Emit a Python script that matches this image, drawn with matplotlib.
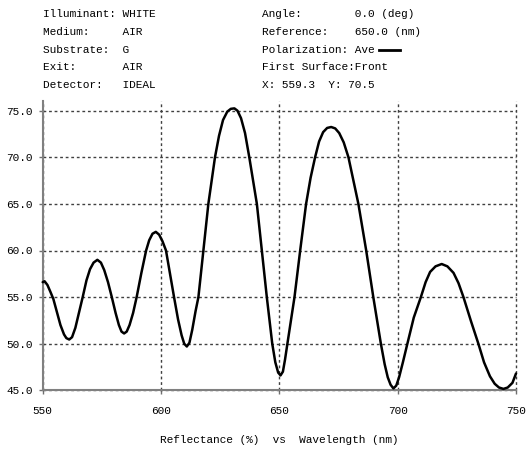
import matplotlib
matplotlib.use("Agg")
import matplotlib.pyplot as plt
from matplotlib.lines import Line2D

# curve (wavelength nm, reflectance %)
wl = [550.0, 550.8, 552.0, 553.2, 554.5, 556.0, 557.5, 559.0, 560.0, 561.2,
      562.4, 563.8, 565.3, 566.9, 568.5, 570.0, 571.5, 573.1, 574.6, 576.0,
      577.6, 579.2, 580.8, 582.2, 583.3, 584.4, 585.5, 586.7, 588.2, 589.7,
      591.7, 593.7, 595.0, 596.4, 597.8, 599.2, 600.6, 602.1, 603.8, 605.5,
      607.2, 608.7, 609.8, 610.9, 612.0, 613.2, 614.6, 615.8, 617.9, 620.0,
      622.8, 624.5, 626.2, 628.0, 629.5, 631.0, 632.3, 633.8, 635.5, 637.3,
      640.5, 642.6, 644.7, 647.0, 648.3, 649.5, 650.5, 651.5, 652.4, 653.4,
      656.4, 658.8, 661.3, 663.2, 665.1, 666.8, 668.5, 670.2, 671.9, 673.6,
      675.3, 677.2, 679.2, 683.4, 686.7, 689.7, 692.9, 694.5, 695.8, 697.0,
      698.2, 699.4, 700.6, 702.2, 704.1, 706.8, 709.8, 711.8, 713.7, 716.0,
      718.6, 721.0, 723.6, 725.7, 727.8, 731.0, 734.1, 736.5, 739.0, 741.0,
      742.8, 744.7, 746.5, 748.5, 750.0]
refl = [56.6, 56.7, 56.3, 55.6, 54.8, 53.4, 52.0, 51.0, 50.6, 50.45,
        50.7, 51.7, 53.3, 55.0, 56.8, 58.0, 58.7, 59.0, 58.7, 57.9,
        56.6, 55.0, 53.3, 52.0, 51.3, 51.1, 51.3, 52.0, 53.3, 55.0,
        57.6, 60.0, 61.1, 61.8, 62.0, 61.7, 61.0, 60.0, 57.5, 55.0,
        52.6, 50.9, 50.0, 49.7, 50.1, 51.5, 53.5, 55.0, 60.0, 65.0,
        70.0, 72.3, 74.0, 74.9, 75.2, 75.25, 75.0, 74.2, 72.6, 70.0,
        65.0, 60.0, 55.0, 50.0, 48.0, 46.9, 46.6, 47.0, 48.3, 50.0,
        55.0, 60.0, 65.0, 67.8, 70.0, 71.7, 72.7, 73.15, 73.25, 73.1,
        72.6, 71.6, 70.0, 65.0, 60.0, 55.0, 50.0, 47.8, 46.4, 45.6,
        45.2, 45.5, 46.4, 48.0, 50.0, 52.8, 55.0, 56.6, 57.7, 58.3,
        58.55, 58.3, 57.6, 56.5, 55.0, 52.4, 50.0, 48.0, 46.5, 45.7,
        45.3, 45.15, 45.3, 45.8, 46.8]

xticks = [550, 600, 650, 700, 750]
yticks = [45, 50, 55, 60, 65, 70, 75]

left_info = ["Illuminant: WHITE",
             "Medium:     AIR",
             "Substrate:  G",
             "Exit:       AIR",
             "Detector:   IDEAL"]
right_info = ["Angle:        0.0 (deg)",
              "Reference:    650.0 (nm)",
              "Polarization: Ave",
              "First Surface:Front",
              "X: 559.3  Y: 70.5"]

W, H = 526, 449
mono = "Liberation Mono"
fig = plt.figure(figsize=(W / 100, H / 100), dpi=100)
ax = fig.add_axes([42.7 / W, 1 - 390.3 / H, (516 - 42.7) / W, (390.3 - 101) / H])

ax.plot(wl, refl, color="black", lw=1.8, solid_joinstyle="round",
        solid_capstyle="round", clip_on=False, zorder=3)

ax.set_xlim(550, 750)
ax.set_ylim(45, 45 + (390.3 - 101) / 9.32)
ax.set_xticks(xticks)
ax.set_yticks(yticks)
ax.set_yticklabels([f"{v:.1f}" for v in yticks])
ax.tick_params(length=3, width=1, color="#707070", labelsize=8, pad=4)
for lab in ax.get_xticklabels() + ax.get_yticklabels():
    lab.set_family(mono)
ax.tick_params(axis="x", pad=8)

for s in ["top", "right"]:
    ax.spines[s].set_visible(False)
for s in ["left", "bottom"]:
    ax.spines[s].set_color("#808080")
    ax.spines[s].set_linewidth(1.5)

ax.grid(True, color="#404040", lw=1, linestyle=(0, (2, 2)))
for gl in ax.get_xgridlines() + ax.get_ygridlines():
    gl.set_clip_on(False)
ax.set_axisbelow(True)

ax.set_xlabel("Reflectance (%)  vs  Wavelength (nm)", family=mono, fontsize=8, labelpad=14)

rows = [14, 32, 50, 67, 85]
for txt, y in zip(left_info, rows):
    fig.text(43 / W, 1 - y / H, txt, family=mono, fontsize=8, va="center")
for txt, y in zip(right_info, rows):
    fig.text(262 / W, 1 - y / H, txt, family=mono, fontsize=8, va="center")

fig.add_artist(Line2D([379 / W, 400 / W], [1 - 50 / H, 1 - 50 / H], color="black", lw=2))

fig.savefig("out.png", dpi=100)
